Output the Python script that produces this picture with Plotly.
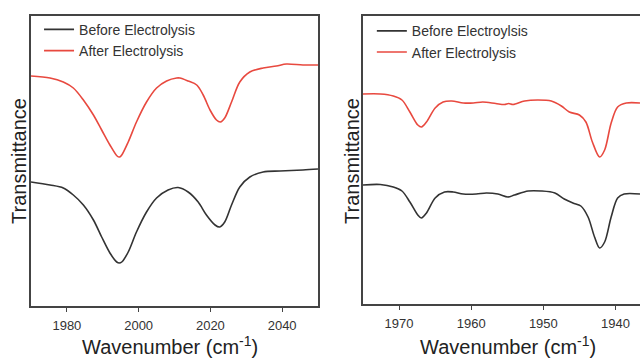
import plotly.graph_objects as go

# IR spectra, carbonyl region (arbitrary transmittance units, offset for clarity)
wn_left_before = [1970, 1975.3, 1979, 1981.8, 1984.6, 1987.4, 1989.7, 1992, 1993.9, 1994.6,
                  1995.3, 1997.1, 1999.4, 2002.2, 2005, 2008.2, 2011, 2013.8, 2016.6, 2018.9,
                  2021.3, 2022.6, 2024, 2025.9, 2028.2, 2031, 2034.7, 2039.4, 2045.8, 2050]
t_left_before = [1.24, 1.21, 1.18, 1.11, 1.01, 0.86, 0.69, 0.53, 0.44, 0.43,
                 0.44, 0.54, 0.74, 0.94, 1.08, 1.16, 1.185, 1.14, 1.04, 0.91,
                 0.81, 0.79, 0.84, 1.01, 1.19, 1.29, 1.34, 1.35, 1.36, 1.37]

wn_left_after = [1970, 1975.3, 1979, 1981.8, 1984.6, 1987.4, 1989.7, 1992, 1994, 1994.7,
                 1995.3, 1997.1, 1999.4, 2002.2, 2005, 2007.8, 2010.6, 2011.5, 2013.8, 2016.2,
                 2018, 2019.9, 2021.7, 2022.8, 2024, 2025.9, 2028.2, 2031, 2034.7, 2038.4,
                 2041.2, 2045.8, 2050]
t_left_after = [2.30, 2.28, 2.24, 2.18, 2.06, 1.91, 1.76, 1.61, 1.50, 1.49,
                1.51, 1.64, 1.84, 2.04, 2.18, 2.25, 2.28, 2.28, 2.25, 2.21,
                2.11, 1.96, 1.86, 1.84, 1.88, 2.04, 2.24, 2.34, 2.38, 2.40,
                2.42, 2.41, 2.41]

wn_right_before = [1975, 1972.6, 1970.8, 1969.6, 1968.5, 1967.4, 1966.9, 1966.2, 1965, 1963.7,
                   1962.5, 1961.1, 1959.3, 1957.9, 1956.3, 1954.9, 1954, 1952.1, 1950.3, 1948.4,
                   1947.1, 1945.9, 1944.8, 1943.8, 1942.9, 1942.2, 1941.5, 1940.6, 1939.7, 1938.8,
                   1936.6]
t_right_before = [1.19, 1.195, 1.17, 1.13, 1.02, 0.89, 0.86, 0.91, 1.06, 1.12,
                  1.12, 1.10, 1.10, 1.11, 1.10, 1.07, 1.09, 1.13, 1.13, 1.11,
                  1.05, 1.01, 0.98, 0.87, 0.67, 0.56, 0.62, 0.87, 1.06, 1.10,
                  1.10]

wn_right_after = [1975, 1972.6, 1970.8, 1969.6, 1968.5, 1967.4, 1966.9, 1966.2, 1965, 1963.9,
                  1962.7, 1961.1, 1959.7, 1958.4, 1956.6, 1955.4, 1954.8, 1954.2, 1952.6, 1950.8,
                  1948.9, 1947.5, 1946.4, 1945, 1944.1, 1943.2, 1942.2, 1941.5, 1940.6, 1939.7,
                  1938.5, 1936.6]
t_right_after = [2.10, 2.10, 2.08, 2.04, 1.92, 1.79, 1.77, 1.82, 1.96, 2.02,
                 2.03, 2.01, 2.01, 2.02, 2.005, 1.995, 2.005, 1.995, 2.03, 2.04,
                 2.03, 1.98, 1.92, 1.89, 1.82, 1.62, 1.47, 1.54, 1.81, 1.97,
                 2.01, 2.01]

left_ticks = [1980, 2000, 2020, 2040]
right_ticks = [1970, 1960, 1950, 1940]

BLACK = "#333333"
RED = "#e8493f"
FONT = "Liberation Sans, Arial, sans-serif"
TITLE_FONT = dict(family=FONT, size=20, color="#222222")

fig = go.Figure()

line_style = dict(shape="spline", smoothing=0.9, width=1.6)

fig.add_trace(go.Scatter(x=wn_left_before, y=t_left_before, mode="lines",
                         name="Before Electrolysis", line=dict(color=BLACK, **line_style),
                         xaxis="x", yaxis="y", legend="legend"))
fig.add_trace(go.Scatter(x=wn_left_after, y=t_left_after, mode="lines",
                         name="After Electrolysis", line=dict(color=RED, **line_style),
                         xaxis="x", yaxis="y", legend="legend"))
fig.add_trace(go.Scatter(x=wn_right_before, y=t_right_before, mode="lines",
                         name="Before Electroylsis", line=dict(color=BLACK, **line_style),
                         xaxis="x2", yaxis="y2", legend="legend2"))
fig.add_trace(go.Scatter(x=wn_right_after, y=t_right_after, mode="lines",
                         name="After Electrolysis", line=dict(color=RED, **line_style),
                         xaxis="x2", yaxis="y2", legend="legend2"))

axis_common = dict(showgrid=False, zeroline=False, showline=True,
                   linecolor="#444444", linewidth=1.5)
xtick_common = dict(ticks="outside", ticklen=4, tickcolor="#444444", ticklabelstandoff=3,
                    tickfont=dict(size=13, color="#333333"))

fig.update_layout(
    width=640, height=363,
    margin=dict(l=0, r=0, t=0, b=0),
    paper_bgcolor="white", plot_bgcolor="white",
    font=dict(family=FONT, color="#333333"),
    xaxis=dict(domain=[31/640, 318/640], range=[1970, 2050], tickvals=left_ticks,
               mirror=True, anchor="y", **xtick_common, **axis_common),
    yaxis=dict(domain=[57/363, 347/363], range=[0, 2.90], showticklabels=False,
               ticks="", mirror=True, anchor="x", **axis_common),
    xaxis2=dict(domain=[363/640, 1.0], range=[1975, 1936.6], tickvals=right_ticks,
                mirror=True, anchor="y2", **xtick_common, **axis_common),
    yaxis2=dict(domain=[59/363, 347/363], range=[0, 2.88], showticklabels=False,
                ticks="", mirror=False, anchor="x2", **axis_common),
    legend=dict(x=0.061, y=0.962, xanchor="left", yanchor="top",
                bgcolor="rgba(0,0,0,0)", font=dict(size=14, color="#333333"),
                traceorder="normal", tracegroupgap=0, itemwidth=30),
    legend2=dict(x=0.581, y=0.958, xanchor="left", yanchor="top",
                 bgcolor="rgba(0,0,0,0)", font=dict(size=14, color="#333333"),
                 traceorder="normal", tracegroupgap=0, itemwidth=30),
)

# Axis titles
for x_px, y_px, text, angle in [
    (170, 345, "Wavenumber (cm<sup>-1</sup>)", 0),
    (508, 345, "Wavenumber (cm<sup>-1</sup>)", 0),
    (19, 161, "Transmittance", -90),
    (352, 161, "Transmittance", -90),
]:
    fig.add_annotation(x=x_px / 640, y=1 - y_px / 363, xref="paper", yref="paper",
                       text=text, textangle=angle, showarrow=False,
                       xanchor="center", yanchor="middle", font=TITLE_FONT)

fig.write_html("out.html")
